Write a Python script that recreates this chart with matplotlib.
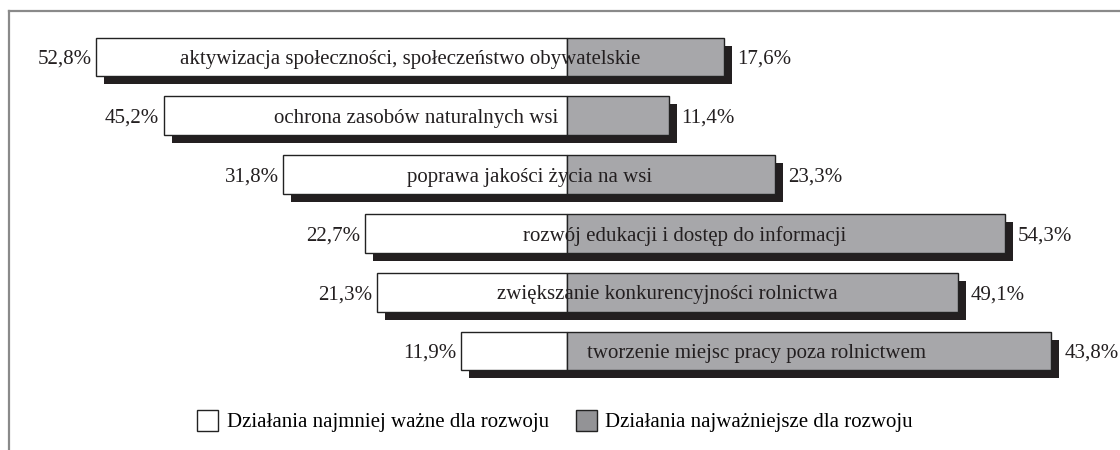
"""
Diverging bar chart: least vs most important development actions.
"""

import matplotlib
matplotlib.use("Agg")
import matplotlib.pyplot as plt
from matplotlib.patches import Patch
from matplotlib.lines import Line2D

# Data
categories = [
    "aktywizacja społeczności, społeczeństwo obywatelskie",
    "ochrona zasobów naturalnych wsi",
    "poprawa jakości życia na wsi",
    "rozwój edukacji i dostęp do informacji",
    "zwiększanie konkurencyjności rolnictwa",
    "tworzenie miejsc pracy poza rolnictwem",
]
least_important = [52.8, 45.2, 31.8, 22.7, 21.3, 11.9]
most_important = [17.6, 11.4, 23.3, 49.1, 43.8, 54.3]
least_labels = ["52,8%", "45,2%", "31,8%", "22,7%", "21,3%", "11,9%"]
most_labels = ["17,6%", "11,4%", "23,3%", "54,3%", "49,1%", "43,8%"]
legend_labels = ["Działania najmniej ważne dla rozwoju",
                 "Działania najważniejsze dla rozwoju"]

FONT = "Liberation Serif"
GREY = "#a7a7aa"
SHADOW = "#231f20"
FS = 15


def main():
    fig = plt.figure(figsize=(11.2, 4.5), dpi=100)
    ax = fig.add_axes([0, 0, 1, 1])

    # 8.92 px per percent, centre at x=567 px
    px_x = 8.92
    ax.set_xlim(-567 / px_x, (1120 - 567) / px_x)
    px_y = 58.8
    ax.set_ylim((450 - 57) / px_y, -57 / px_y)
    ax.axis("off")

    h = 0.66
    dx = 8 / px_x
    dy = 8 / px_y
    ys = list(range(len(categories)))

    # shadows
    ax.barh([y + dy for y in ys], [l + r for l, r in zip(least_important, most_important)],
            left=[-l + dx for l in least_important], height=h, color=SHADOW, zorder=1)
    # bars
    ax.barh(ys, [-l for l in least_important], height=h, color="white",
            edgecolor="#222222", linewidth=1.0, zorder=2)
    ax.barh(ys, most_important, height=h, color=GREY,
            edgecolor="#222222", linewidth=1.0, zorder=2)

    for y, cat, l, r, ll, rl in zip(ys, categories, least_important, most_important,
                                     least_labels, most_labels):
        ax.text((r - l) / 2, y, cat, ha="center", va="center_baseline", fontsize=FS,
                family=FONT, color="#231f20", zorder=3)
        ax.text(-l - 0.5, y, ll, ha="right", va="center_baseline", fontsize=FS,
                family=FONT, color="#231f20")
        ax.text(r + 1.45, y, rl, ha="left", va="center_baseline", fontsize=FS,
                family=FONT, color="#231f20")

    # frame lines (top and left)
    fig.add_artist(Line2D([9 / 1120, 1], [1 - 11 / 450, 1 - 11 / 450],
                          transform=fig.transFigure, color="#8a8a8a", lw=1.6))
    fig.add_artist(Line2D([9 / 1120, 9 / 1120], [0, 1 - 11 / 450],
                          transform=fig.transFigure, color="#8a8a8a", lw=1.6))

    handles = [Patch(facecolor="white", edgecolor="#222222", linewidth=1.0),
               Patch(facecolor="#939396", edgecolor="#222222", linewidth=1.0)]
    fig.legend(handles, legend_labels, loc="center", bbox_to_anchor=(555 / 1120, 1 - 421 / 450),
               ncol=2, frameon=False, prop={"family": FONT, "size": FS},
               handlelength=1.0, handleheight=1.2, handletextpad=0.4, columnspacing=1.3)

    fig.savefig("out.png", dpi=100)
    plt.close(fig)


if __name__ == "__main__":
    main()
